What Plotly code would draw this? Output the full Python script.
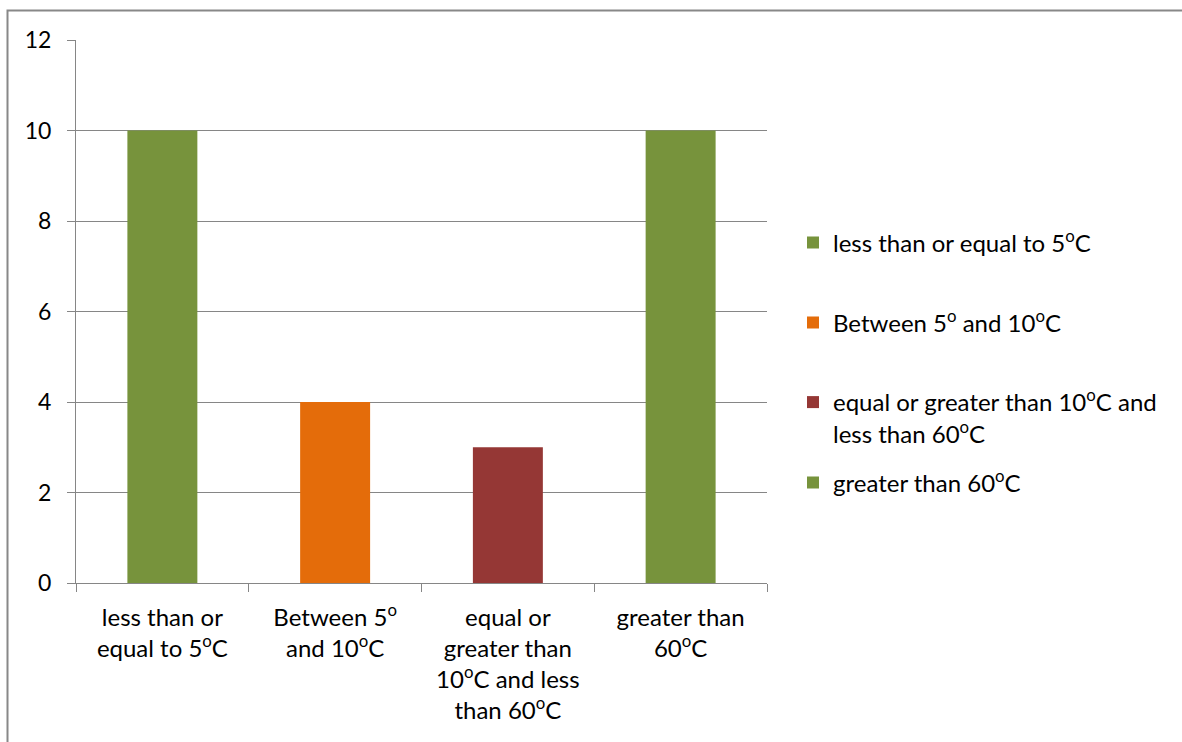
import plotly.graph_objects as go

categories = [
    "less than or<br>equal to 5<sup>o</sup>C",
    "Between 5<sup>o</sup><br>and 10<sup>o</sup>C",
    "equal or<br>greater than<br>10<sup>o</sup>C and less<br>than 60<sup>o</sup>C",
    "greater than<br>60<sup>o</sup>C",
]
series_names = [
    "less than or equal to 5<sup>o</sup>C",
    "Between 5<sup>o</sup> and 10<sup>o</sup>C",
    "equal or greater than 10<sup>o</sup>C and<br>less than 60<sup>o</sup>C",
    "greater than 60<sup>o</sup>C",
]
values = [10, 4, 3, 10]
colors = ["#77933C", "#E46C0A", "#953735", "#77933C"]

FONT = "Lato"
FS = 24
W, H = 1182, 742
L, R, T, B = 76, 767, 40, 583
pw, ph = R - L, B - T

def px(x):
    return (x - L) / pw

def py(y):
    return (B - y) / ph

legend_names = ["legend", "legend2", "legend3", "legend4"]
legend_y = [243, 323, 418, 483]

fig = go.Figure()
for i in range(4):
    fig.add_trace(go.Bar(
        x=[categories[i]], y=[values[i]], name=series_names[i],
        marker=dict(color=colors[i], line=dict(width=0)),
        width=0.405, legend=legend_names[i], showlegend=True,
    ))

layout_legends = {}
for i, ln in enumerate(legend_names):
    layout_legends[ln] = dict(
        x=px(793), y=py(legend_y[i]), xanchor="left", yanchor="middle",
        font=dict(family=FONT, size=FS, color="#000000"),
        bgcolor="rgba(0,0,0,0)", borderwidth=0, itemclick=False,
        valign="top",
    )

fig.update_layout(
    width=W, height=H,
    margin=dict(l=L, r=W - R, t=T, b=H - B, pad=0),
    paper_bgcolor="white", plot_bgcolor="white",
    barmode="overlay",
    font=dict(family=FONT, size=FS, color="#000000"),
    **layout_legends,
)
fig.update_xaxes(
    categoryorder="array", categoryarray=categories,
    tickson="boundaries", ticks="outside", ticklen=8, tickcolor="#868686", tickwidth=1,
    showline=True, linecolor="#868686", linewidth=1,
    showgrid=False, tickfont=dict(family=FONT, size=FS, color="#000000"),
    ticklabelstandoff=13,
)
fig.update_yaxes(
    range=[0, 12], dtick=2, tick0=0,
    showgrid=True, gridcolor="#868686", gridwidth=1,
    ticks="outside", ticklen=8, tickcolor="#868686", tickwidth=1,
    showline=True, linecolor="#868686", linewidth=1,
    zeroline=False, tickfont=dict(family=FONT, size=23, color="#000000"),
    ticklabelstandoff=11,
)
# outer chart border
fig.add_shape(type="rect", xref="paper", yref="paper",
              x0=px(7.5), x1=px(1195), y0=py(755), y1=py(10.5),
              line=dict(color="#888888", width=2), fillcolor="rgba(0,0,0,0)",
              layer="below")

fig.write_html("out.html", config={"displayModeBar": False},
               post_script="document.body.style.margin='0px';")
